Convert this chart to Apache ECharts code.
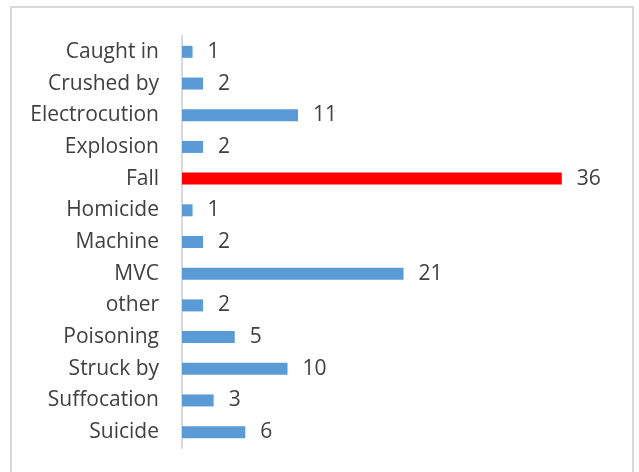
<!DOCTYPE html>
<html>
<head>
<meta charset="utf-8">
<script src="https://cdn.jsdelivr.net/npm/echarts@6/dist/echarts.min.js"></script>
<style>html,body{margin:0;padding:0;background:#fff}#c{width:639px;height:472px}</style>
</head>
<body>
<div id="c"></div>
<script>
const categories = ["Caught in","Crushed by","Electrocution","Explosion","Fall","Homicide","Machine","MVC","other","Poisoning","Struck by","Suffocation","Suicide"];
const values = [1,2,11,2,36,1,2,21,2,5,10,3,6];
const highlightCategory = "Fall";

const chart = echarts.init(document.getElementById('c'), null, {renderer:'canvas'});
const FONT = 'Open Sans';
chart.setOption({
  animation:false,
  backgroundColor:'#fff',
  graphic:[{type:'rect',shape:{x:11,y:7,width:622,height:520},style:{fill:'none',stroke:'#d9d9d9',lineWidth:2},silent:true,z:-1}],
  grid:{left:182,top:36,width:422,height:412,containLabel:false},
  xAxis:{type:'value',min:0,max:40,show:false},
  yAxis:{type:'category',data:categories,inverse:true,
    axisLine:{show:true,lineStyle:{color:'#d9d9d9',width:2}},
    axisTick:{show:false},
    axisLabel:{color:'#404040',fontFamily:FONT,fontSize:21,margin:23},
    splitLine:{show:false}},
  series:[{type:'bar',barWidth:12,
    data:values.map((v,i)=>({value:v,itemStyle:{color:categories[i]===highlightCategory?'#ff0000':'#5b9bd5'}})),
    label:{show:true,position:'right',distance:15,color:'#404040',fontFamily:FONT,fontSize:21}}]
});
</script>
</body>
</html>
